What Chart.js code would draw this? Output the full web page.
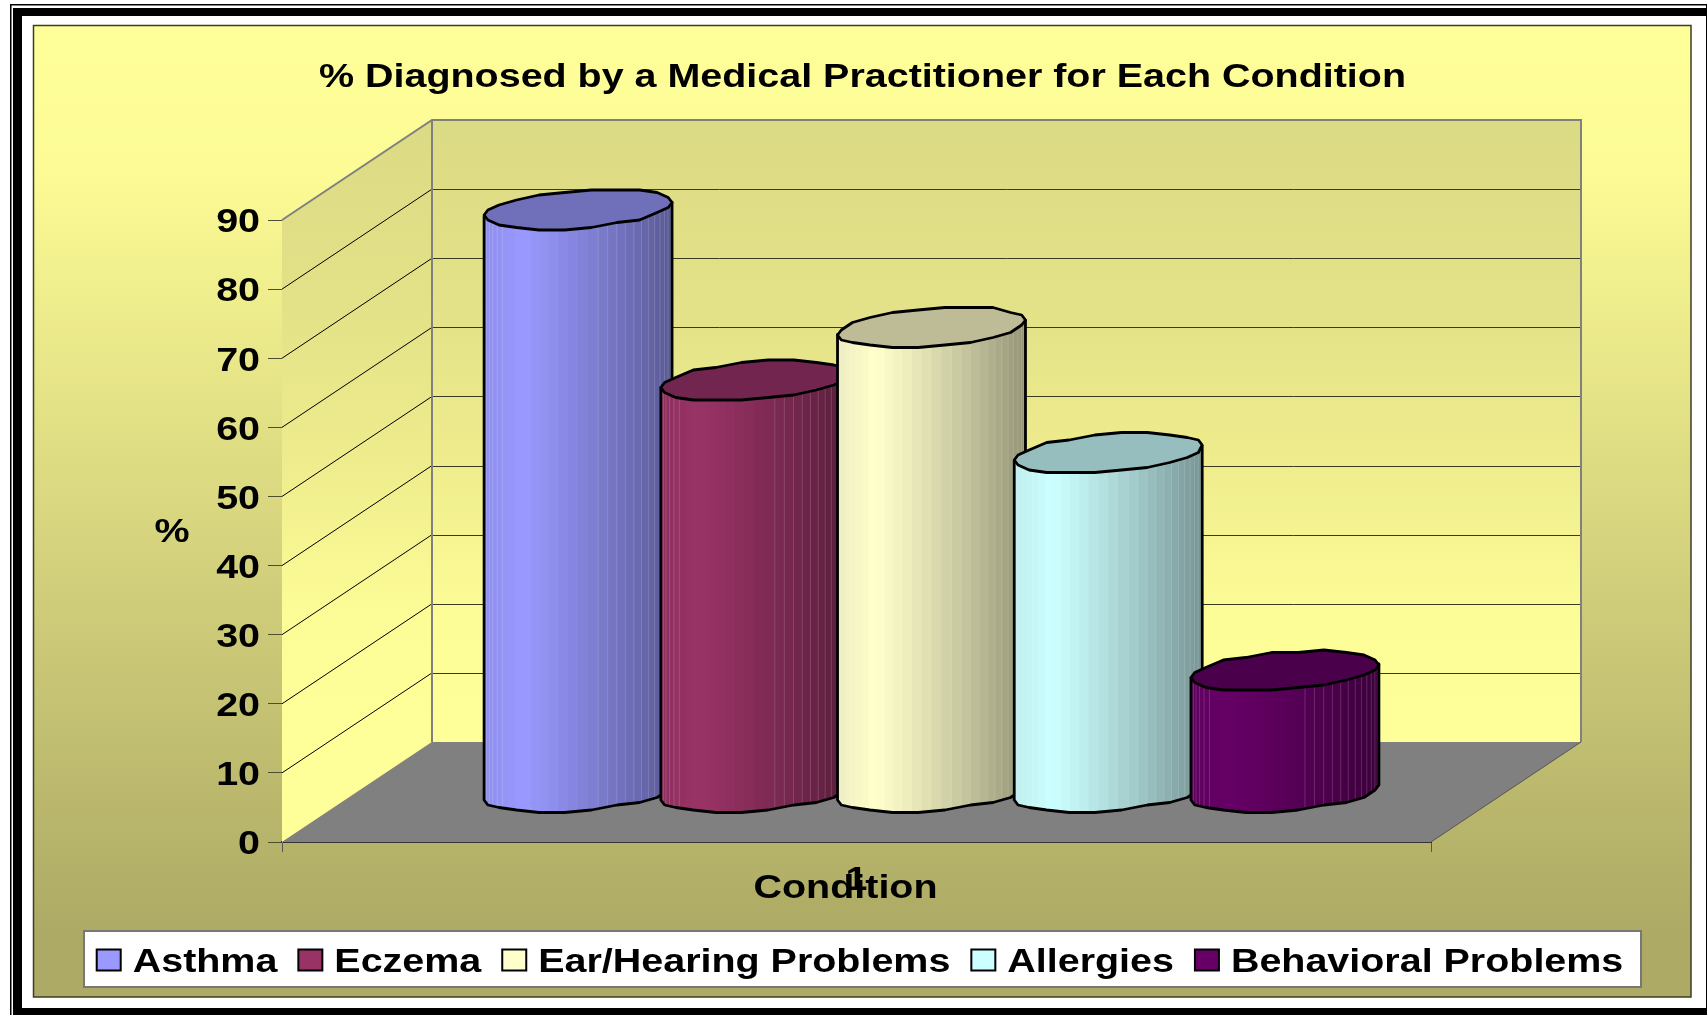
<!DOCTYPE html>
<html><head><meta charset="utf-8">
<style>html,body{margin:0;padding:0;background:#fff;overflow:hidden}canvas{display:block}</style>
<script src="https://cdn.jsdelivr.net/npm/chart.js@4/dist/chart.umd.min.js"></script>
</head><body><canvas id="c" width="1707" height="1015"></canvas>
<script>
const categories = ['1'];
const seriesNames = ['Asthma','Eczema','Ear/Hearing Problems','Allergies','Behavioral Problems'];
const asthma = [84.4];
const eczema = [59.6];
const earHearing = [67.3];
const allergies = [49.1];
const behavioral = [17.6];
const seriesValues = [asthma, eczema, earHearing, allergies, behavioral];
const seriesColors = ['#9999FF','#993366','#FFFFCC','#CCFFFF','#660066'];
const topColors = ['#7070BA','#72264F','#BDBC97','#96BEBE','#4B004B'];
const titleText = '% Diagnosed by a Medical Practitioner for Each Condition';
const xTitle = 'Condition  ';
const yTitle = '%';

const FONT = '"Liberation Sans", Arial, sans-serif';
const FS = 34, STRETCH = 1.16, DX = 150, DY = 100;
const canvas = document.getElementById('c');
const ctx = canvas.getContext('2d');
const rawFill = ctx.fillText.bind(ctx), rawMeasure = ctx.measureText.bind(ctx);
ctx.fillText = function(t, x, y, m){
  ctx.save();
  ctx.translate(seriesNames.includes(t) ? x - 5 : x, ctx.textBaseline === 'middle' ? y + 3 : y);
  ctx.scale(STRETCH, 1);
  rawFill(t, 0, 0); ctx.restore();
};
ctx.measureText = function(t){ const r = rawMeasure(t); return {width: r.width * STRETCH, actualBoundingBoxAscent: r.actualBoundingBoxAscent, actualBoundingBoxDescent: r.actualBoundingBoxDescent}; };

function shade(hex, f){
  const n = parseInt(hex.slice(1), 16);
  return 'rgb(' + [(n>>16)&255,(n>>8)&255,n&255].map(c => Math.round(c*f)).join(',') + ')';
}
function ellipsePts(cx, cy, rx, ry, tilt, from, to, n){
  const pts = [];
  for (let i = 0; i <= n; i++){
    const t = from + (to-from)*i/n;
    pts.push([cx + rx*Math.cos(t), Math.round((cy + ry*Math.sin(t) - tilt*Math.cos(t))/2.5)*2.5]);
  }
  return pts;
}
function drawCylinder(c, el, i){
  const rx = el.width/2, cx = el.x + DX/2, topY = el.y - DY/2 + .5, baseY = el.base - DY/2 + .5;
  const ry = 18.8, tilt = 7;
  const front = ellipsePts(cx, baseY, rx, ry, tilt, 0, Math.PI, 11);
  c.save();
  c.beginPath();
  c.moveTo(cx+rx, topY-tilt);
  front.forEach(p => c.lineTo(p[0], p[1]));
  c.lineTo(cx-rx, topY+tilt);
  c.closePath();
  c.save(); c.clip();
  const N = 30;
  for (let k = 0; k < N; k++){
    const x0 = cx - rx*Math.cos(Math.PI*k/N), x1 = cx - rx*Math.cos(Math.PI*(k+1)/N);
    const u = (x0 + x1 - 2*(cx-rx))/2/(2*rx);
    const f = u < .2 ? .93 + .07*u/.2 : 1 - .42*Math.pow((u-.2)/.8, 1.15);
    c.fillStyle = shade(seriesColors[i], f);
    c.fillRect(x0, topY-40, x1-x0+1, baseY-topY+80);
    if (u < .14 || u > .58){
      c.fillStyle = 'rgba(255,255,255,.16)';
      c.fillRect(x0, topY-40, 1, baseY-topY+80);
    }
  }
  c.restore();
  c.strokeStyle = '#000'; c.lineWidth = 2.8; c.lineJoin = 'round'; c.stroke();
  const ring = ellipsePts(cx, topY, rx, ry, tilt, 0, 2*Math.PI, 22);
  c.beginPath(); ring.forEach((p,j) => j ? c.lineTo(p[0],p[1]) : c.moveTo(p[0],p[1])); c.closePath();
  c.fillStyle = topColors[i]; c.fill(); c.stroke();
  c.restore();
}
const scene = {
  id: 'scene',
  beforeDraw(chart){
    const c = chart.ctx, W = 1707, H = 1015;
    c.save();
    c.fillStyle = '#fff'; c.fillRect(0,0,W,H);
    c.fillStyle = '#000';
    c.fillRect(10,4,W-10,1.5); c.fillRect(10,4,1.5,H-4);
    c.fillRect(13,8,W-13,8); c.fillRect(13,8,9,H-8);
    c.fillRect(13,1008,W-13,7); c.fillRect(1706,4,1,H-4);
    const g = c.createLinearGradient(0,25,0,997);
    g.addColorStop(0,'#FFFF99'); g.addColorStop(.15,'#FCFB95'); g.addColorStop(.93,'#ADAA65'); g.addColorStop(1,'#ADAA65');
    c.fillStyle = g; c.fillRect(33.5,25.5,1657.5,971.5);
    c.strokeStyle = '#3c3c28'; c.lineWidth = 1.5; c.strokeRect(33.5,25.5,1657.5,971.5);
    c.fillStyle = '#fff'; c.fillRect(84,931,1557,56);
    c.strokeStyle = '#777'; c.lineWidth = 2; c.strokeRect(84,931,1557,56);
    c.restore();
  },
  beforeDatasetsDraw(chart){
    const c = chart.ctx, a = chart.chartArea, ys = chart.scales.y;
    const y0 = ys.getPixelForValue(0), yT = ys.getPixelForValue(90);
    const L = a.left, R = a.right;
    c.save();
    const g = c.createLinearGradient(0,yT-DY,0,y0-DY);
    g.addColorStop(0,'#DCDB85'); g.addColorStop(.3,'#E3E288'); g.addColorStop(.55,'#EEEC8C'); g.addColorStop(.8,'#FDFD97'); g.addColorStop(1,'#FFFF99');
    c.fillStyle = g;
    c.beginPath(); c.moveTo(L,y0); c.lineTo(L,yT); c.lineTo(L+DX,yT-DY); c.lineTo(R+DX,yT-DY); c.lineTo(R+DX,y0-DY); c.lineTo(L+DX,y0-DY); c.closePath(); c.fill();
    c.fillStyle = '#808080';
    c.beginPath(); c.moveTo(L,y0); c.lineTo(L+DX,y0-DY); c.lineTo(R+DX,y0-DY); c.lineTo(R,y0); c.closePath(); c.fill();
    c.lineWidth = 1;
    ys.ticks.forEach(t => {
      if (t.value === 0 || t.value === 90) return;
      const y = ys.getPixelForValue(t.value);
      c.strokeStyle = '#000'; c.beginPath(); c.moveTo(L,y); c.lineTo(L+DX,y-DY); c.stroke();
      c.strokeStyle = '#3a3a22'; c.beginPath(); c.moveTo(L+DX,Math.round(y-DY)+.5); c.lineTo(R+DX,Math.round(y-DY)+.5); c.stroke();
    });
    c.strokeStyle = '#808080'; c.lineWidth = 2;
    c.beginPath(); c.moveTo(L,yT); c.lineTo(L+DX,yT-DY); c.lineTo(R+DX,yT-DY); c.lineTo(R+DX,y0-DY);
    c.moveTo(L+DX,yT-DY); c.lineTo(L+DX,y0-DY); c.stroke();
    c.lineWidth = 1; c.strokeStyle = '#555';
    c.beginPath(); c.moveTo(R,y0); c.lineTo(R+DX,y0-DY); c.stroke();
    c.restore();
    seriesNames.forEach((_, i) => drawCylinder(c, chart.getDatasetMeta(i).data[0], i));
  },
  beforeDatasetDraw(){ return false; },
  afterDraw(chart){
    const c = chart.ctx;
    c.save(); c.font = 'bold ' + FS + 'px ' + FONT; c.fillStyle = '#000'; c.textAlign = 'center'; c.textBaseline = 'middle';
    c.fillText(yTitle, 172, 530); c.restore();
  }
};
const font = { family: FONT, size: FS, weight: 'bold' };
new Chart(ctx, {
  type: 'bar',
  data: { labels: categories, datasets: seriesNames.map((n,i) => ({
    label: n, data: seriesValues[i], backgroundColor: seriesColors[i], borderColor: '#000', borderWidth: 2,
    barPercentage: 1.0636, categoryPercentage: 0.769 })) },
  plugins: [scene],
  options: {
    responsive: false, animation: false, events: [],
    layout: { padding: { left: 18, top: 0, right: 0, bottom: 28 } },
    plugins: {
      tooltip: { enabled: false },
      title: { display: true, text: titleText, color: '#000', font, padding: { top: 54, bottom: 125.2 } },
      legend: { position: 'bottom', labels: { color: '#000', font, boxWidth: 24, boxHeight: 21, padding: 16 } }
    },
    scales: {
      x: {
        grid: { display: true, drawOnChartArea: false, drawTicks: true, tickLength: 10, color: '#555', offset: true },
        border: { display: true, color: '#333', width: 2 },
        ticks: { color: '#000', font, padding: 5, maxRotation: 0 },
        title: { display: true, text: xTitle, color: '#000', font, padding: { top: 0, bottom: 20.5 } },
        afterFit(s){ s.height = 85; }
      },
      y: {
        min: 0, max: 90,
        grid: { display: true, drawOnChartArea: false, drawTicks: true, tickLength: 14, color: '#4d4d30' },
        border: { display: true, color: '#808080', width: 1 },
        ticks: { stepSize: 10, color: '#000', font, padding: 8 },
        afterFit(s){ s.width = 264; }
      },
      yRight: {
        axis: 'y', position: 'right', display: true,
        grid: { display: false }, border: { display: false }, ticks: { display: false },
        afterFit(s){ s.width = 276; }
      }
    }
  }
});
</script></body></html>
